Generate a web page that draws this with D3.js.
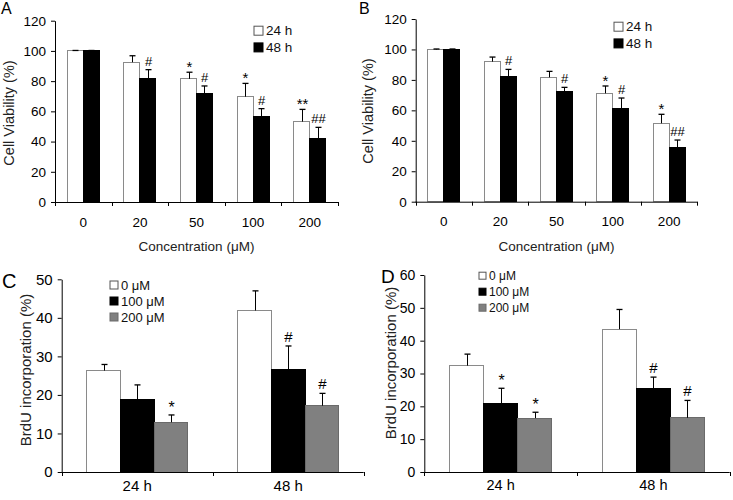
<!DOCTYPE html>
<html><head><meta charset="utf-8">
<script src="https://cdn.jsdelivr.net/npm/d3@7"></script>
<style>
body{margin:0;background:#fff}
svg{display:block;font-family:"Liberation Sans",Arial,Helvetica,sans-serif}
</style>
</head><body>
<svg id="chart" width="733" height="500"></svg>
<script>
// ---------- DATA ----------
const concCategories = ["0", "20", "50", "100", "200"];
const timeSeriesNames = ["24 h", "48 h"];
const viabilityTicks = [0, 20, 40, 60, 80, 100, 120];

// Panel A
const viabA_24h = [100, 92.5, 81.5, 69.7, 53.2];
const viabA_24hErr = [0.3, 4.3, 4.4, 8.8, 8.1];
const viabA_48h = [100, 81.8, 71.9, 56.7, 42.1];
const viabA_48hErr = [0.3, 5.8, 4.9, 5.1, 7.3];
const sigA_24h = ["", "", "*", "*", "**"];
const sigA_48h = ["", "#", "#", "#", "##"];

// Panel B
const viabB_24h = [100, 92.0, 81.7, 71.2, 51.5];
const viabB_24hErr = [0.3, 3.0, 3.9, 4.8, 5.9];
const viabB_48h = [100, 82.5, 72.7, 61.5, 35.3];
const viabB_48hErr = [0.3, 4.4, 2.4, 6.6, 5.2];
const sigB_24h = ["", "", "", "*", "*"];
const sigB_48h = ["", "#", "#", "#", "##"];

const timeCategories = ["24 h", "48 h"];
const doseSeriesNames = ["0 μM", "100 μM", "200 μM"];

// Panel C
const brduC_ticks = [0, 10, 20, 30, 40, 50];
const brduC_0 = [26.3, 41.9];
const brduC_0Err = [1.6, 5.1];
const brduC_100 = [18.9, 26.6];
const brduC_100Err = [3.7, 6.1];
const brduC_200 = [12.9, 17.2];
const brduC_200Err = [1.9, 3.2];
const sigC_0 = ["", ""];
const sigC_100 = ["", "#"];
const sigC_200 = ["*", "#"];

// Panel D
const brduD_ticks = [0, 10, 20, 30, 40, 50, 60];
const brduD_0 = [32.4, 43.5];
const brduD_0Err = [3.5, 6.0];
const brduD_100 = [20.9, 25.4];
const brduD_100Err = [4.6, 3.5];
const brduD_200 = [16.4, 16.5];
const brduD_200Err = [1.8, 5.3];
const sigD_0 = ["", ""];
const sigD_100 = ["*", "#"];
const sigD_200 = ["*", "#"];

// ---------- STYLES ----------
const fills = {white: "#ffffff", black: "#000000", gray: "#808080"};
const strokes = {white: "#8a8a8a", black: "#000000", gray: "#6a6a6a"};

const svg = d3.select("#chart");

function drawPanel(o) {
  const g = svg.append("g");
  const x0 = d3.scaleBand().domain(o.cats).range([o.left, o.right]).padding(0);
  const x1 = d3.scaleBand().domain(o.series.map(s => s.name))
    .range([0, x0.bandwidth()]).paddingInner(0).paddingOuter(o.pad);
  const y = d3.scaleLinear().domain([0, o.ymax]).range([o.bottom, o.top]);

  // bars
  o.series.forEach(s => {
    s.values.forEach((v, i) => {
      const bx = x0(o.cats[i]) + x1(s.name);
      const bw = x1.bandwidth();
      g.append("rect")
        .attr("x", bx).attr("y", y(v))
        .attr("width", bw).attr("height", y(0) - y(v))
        .attr("fill", fills[s.color])
        .attr("stroke", strokes[s.color]).attr("stroke-width", 1)
        .attr("shape-rendering", "crispEdges");
      const cx = Math.round(bx + bw / 2) + 0.5;
      const et = y(v + s.err[i]);
      g.append("line").attr("x1", cx).attr("x2", cx).attr("y1", y(v)).attr("y2", et)
        .attr("stroke", "#000").attr("stroke-width", 1);
      g.append("line").attr("x1", cx - 3).attr("x2", cx + 3).attr("y1", et).attr("y2", et)
        .attr("stroke", "#000").attr("stroke-width", 1.3);
      const lab = s.sig[i];
      if (lab) {
        const isStar = lab.indexOf("*") >= 0;
        g.append("text").attr("x", cx).attr("y", isStar ? et + o.starDy : et - 4)
          .attr("text-anchor", "middle")
          .style("font-size", (isStar ? o.starFont : o.hashFont) + "px")
          .text(lab);
      }
    });
  });

  // y axis
  const ya = g.append("g").attr("transform", `translate(${o.left},0)`)
    .call(d3.axisLeft(y).tickValues(o.yticks).tickSize(4).tickSizeOuter(0).tickPadding(5));
  ya.selectAll("text").style("font-size", o.tickFont + "px").attr("fill", "#000")
    .style("font-family", "Liberation Sans, Arial, sans-serif");
  ya.selectAll("line,path").attr("stroke", "#000");

  // x axis (labels via d3 axis, boundary ticks drawn separately)
  const xa = g.append("g").attr("transform", `translate(0,${o.bottom})`)
    .call(d3.axisBottom(x0).tickSize(0).tickPadding(o.xPad));
  xa.select(".domain").remove();
  xa.selectAll("text").style("font-size", o.xFont + "px").attr("fill", "#000")
    .style("font-family", "Liberation Sans, Arial, sans-serif");
  g.append("line").attr("x1", o.left - 0.5).attr("x2", o.right).attr("y1", o.bottom + 0.5).attr("y2", o.bottom + 0.5)
    .attr("stroke", "#000");
  const bounds = o.cats.map(c => x0(c)).concat([x0(o.cats[o.cats.length - 1]) + x0.bandwidth()]);
  bounds.forEach(b => {
    const bx = Math.round(b) + 0.5;
    g.append("line").attr("x1", bx).attr("x2", bx).attr("y1", o.bottom).attr("y2", o.bottom + 4)
      .attr("stroke", "#000");
  });

  // axis titles
  g.append("text").attr("transform", `translate(${o.yTitleX},${o.yTitleY}) rotate(-90)`)
    .attr("text-anchor", "middle").attr("dominant-baseline", "central")
    .style("font-size", o.yTitleFont + "px").attr("fill", "#222").text(o.yTitle);
  if (o.xTitle) {
    g.append("text").attr("x", (o.left + o.right) / 2).attr("y", o.xTitleY)
      .attr("text-anchor", "middle").style("font-size", o.xTitleFont + "px").attr("fill", "#222")
      .text(o.xTitle);
  }
  // panel letter
  g.append("text").attr("x", o.letterX).attr("y", o.letterY)
    .style("font-size", o.letterFont + "px").text(o.letter);

  // legend
  o.series.forEach((s, i) => {
    const cy = o.legY + i * o.legStep;
    g.append("rect").attr("x", o.legX).attr("y", cy - o.legBox / 2)
      .attr("width", o.legBox).attr("height", o.legBox)
      .attr("fill", fills[s.color]).attr("stroke", s.color === "white" ? "#555" : strokes[s.color])
      .attr("stroke-width", 1);
    g.append("text").attr("x", o.legX + o.legBox + 3).attr("y", cy)
      .attr("dominant-baseline", "central")
      .style("font-size", o.legFont + "px").attr("fill", "#111").text(s.name);
  });
}

const common12 = {
  cats: concCategories, ymax: 120, yticks: viabilityTicks, pad: 0.77,
  tickFont: 13.5, xFont: 13.5, xPad: 15, yTitle: "Cell Viability (%)", yTitleFont: 14.5,
  xTitle: "Concentration (μM)", xTitleFont: 13.5, letterFont: 16,
  starFont: 15, hashFont: 13, starDy: 0, legBox: 9, legStep: 16.7, legFont: 13.5
};

drawPanel(Object.assign({}, common12, {
  left: 55, right: 338, top: 20.7, bottom: 202,
  series: [
    {name: timeSeriesNames[0], values: viabA_24h, err: viabA_24hErr, sig: sigA_24h, color: "white"},
    {name: timeSeriesNames[1], values: viabA_48h, err: viabA_48hErr, sig: sigA_48h, color: "black"}
  ],
  yTitleX: 9, yTitleY: 113, xTitleY: 251, letter: "A", letterX: 1, letterY: 14,
  legX: 254, legY: 30.7
}));

drawPanel(Object.assign({}, common12, {
  left: 415.7, right: 697.3, top: 19, bottom: 201.7,
  series: [
    {name: timeSeriesNames[0], values: viabB_24h, err: viabB_24hErr, sig: sigB_24h, color: "white"},
    {name: timeSeriesNames[1], values: viabB_48h, err: viabB_48hErr, sig: sigB_48h, color: "black"}
  ],
  yTitleX: 368, yTitleY: 111, xTitleY: 251, letter: "B", letterX: 359, letterY: 14,
  legX: 614, legY: 26.7
}));

const common34 = {
  cats: timeCategories, pad: 0.745,
  yTitle: "BrdU incorporation (%)", yTitleFont: 15,
  xTitle: null, starFont: 16, hashFont: 15, starDy: -2, legStep: 16
};

drawPanel(Object.assign({}, common34, {
  left: 61.7, right: 363.7, top: 279.3, bottom: 472, ymax: 50, yticks: brduC_ticks,
  tickFont: 15, xFont: 15, xPad: 8,
  series: [
    {name: doseSeriesNames[0], values: brduC_0, err: brduC_0Err, sig: sigC_0, color: "white"},
    {name: doseSeriesNames[1], values: brduC_100, err: brduC_100Err, sig: sigC_100, color: "black"},
    {name: doseSeriesNames[2], values: brduC_200, err: brduC_200Err, sig: sigC_200, color: "gray"}
  ],
  yTitleX: 25, yTitleY: 370, letter: "C", letterX: 2, letterY: 288, letterFont: 20,
  legX: 110, legY: 285, legBox: 8, legFont: 13
}));

drawPanel(Object.assign({}, common34, {
  left: 424.3, right: 729.7, top: 275, bottom: 472, ymax: 60, yticks: brduD_ticks,
  tickFont: 14, xFont: 14.5, xPad: 8,
  series: [
    {name: doseSeriesNames[0], values: brduD_0, err: brduD_0Err, sig: sigD_0, color: "white"},
    {name: doseSeriesNames[1], values: brduD_100, err: brduD_100Err, sig: sigD_100, color: "black"},
    {name: doseSeriesNames[2], values: brduD_200, err: brduD_200Err, sig: sigD_200, color: "gray"}
  ],
  yTitleX: 390, yTitleY: 363, letter: "D", letterX: 381, letterY: 283, letterFont: 19,
  legX: 479, legY: 275.7, legBox: 7, legFont: 12
}));
</script>
</body></html>
